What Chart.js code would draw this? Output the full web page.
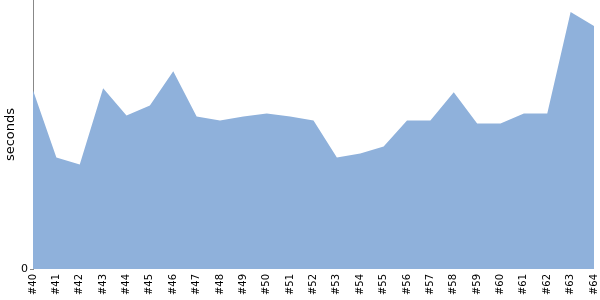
<!DOCTYPE html>
<html><head><meta charset="utf-8">
<script src="https://cdn.jsdelivr.net/npm/chart.js@4/dist/chart.umd.min.js"></script>
<style>html,body{margin:0;padding:0;background:#fff}#wrap{width:600px;height:300px}</style>
</head><body><div id="wrap"><canvas id="c" width="600" height="300"></canvas></div>
<script>
const categories = ['#40','#41','#42','#43','#44','#45','#46','#47','#48','#49','#50','#51','#52','#53','#54','#55','#56','#57','#58','#59','#60','#61','#62','#63','#64'];
const seconds = [178,111,104,180,153,163,197,152,148,152,155,152,148,111,115,122,148,148,176,145,145,155,155,256,242];
const yTickLabels = ['0'];
const yMax = 268;

new Chart(document.getElementById('c'), {
  type: 'line',
  data: { labels: categories, datasets: [{
    data: seconds, fill: 'origin', backgroundColor: '#8fb1db', borderWidth: 0,
    borderColor: 'rgba(0,0,0,0)', pointRadius: 0, tension: 0
  }]},
  options: {
    responsive: false, animation: false,
    layout: { padding: { left: 0, right: 6, top: 0, bottom: 0 } },
    plugins: { legend: { display: false }, tooltip: { enabled: false } },
    scales: {
      x: {
        offset: false,
        grid: { display: false }, border: { display: false },
        ticks: { minRotation: 90, maxRotation: 90, autoSkip: false, padding: -3,
          font: { family: 'DejaVu Sans', size: 10 }, color: '#000' },
        afterFit: s => { s.height = 31; s.paddingRight = 0; s.paddingLeft = 0; }
      },
      y: {
        min: 0, max: yMax,
        afterBuildTicks: s => { s.ticks = [{ value: 0 }]; },
        grid: { drawOnChartArea: false, drawTicks: true, tickLength: 3, color: '#888' },
        border: { display: true, color: '#888', width: 1 },
        ticks: { padding: 2, font: { family: 'DejaVu Sans', size: 11 }, color: '#000',
          callback: v => v === 0 ? yTickLabels[0] : '' },
        title: { display: true, text: 'seconds', font: { family: 'DejaVu Sans', size: 13 }, color: '#000', padding: { top: 3, bottom: 0 } },
        afterFit: s => { s.width = 33; s.paddingTop = 0; s.paddingBottom = 0; }
      }
    }
  }
});
</script></body></html>
